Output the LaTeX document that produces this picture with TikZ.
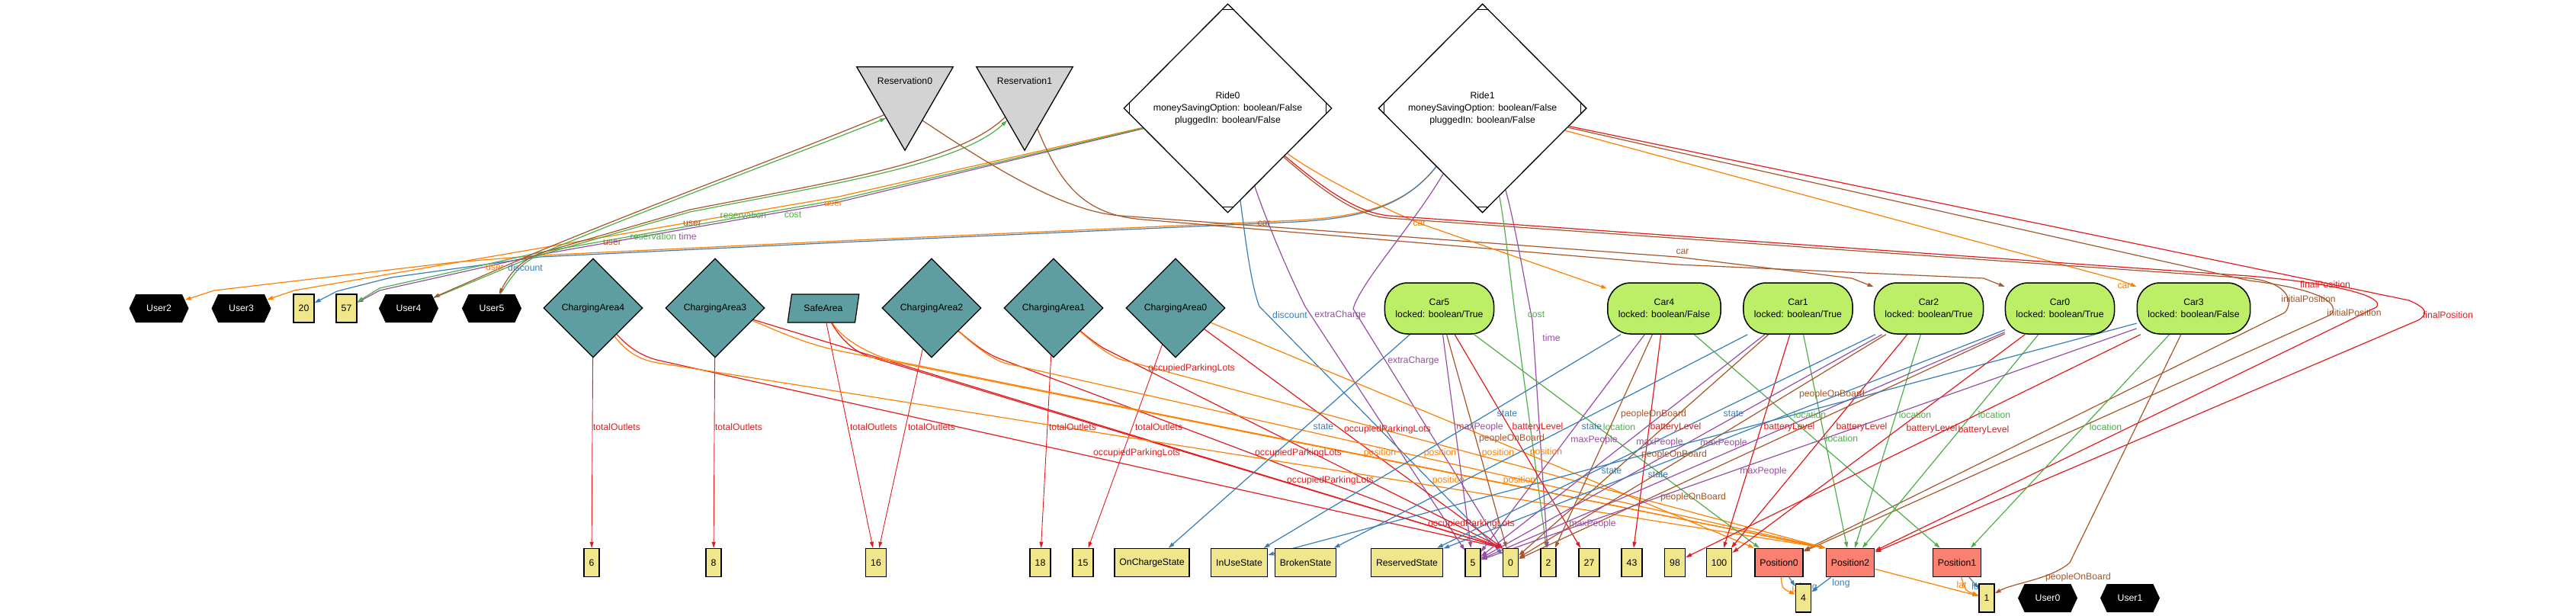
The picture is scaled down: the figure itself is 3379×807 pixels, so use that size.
\documentclass[tikz,border=0pt]{standalone}
\usepackage{fontspec}
\setmainfont{Liberation Sans}
\usetikzlibrary{shapes.geometric,shapes.symbols,arrows.meta}
\definecolor{cred}{HTML}{E41A1C}
\definecolor{cblue}{HTML}{377EB8}
\definecolor{cgreen}{HTML}{4DAF4A}
\definecolor{cpurple}{HTML}{984EA3}
\definecolor{corange}{HTML}{FF7F00}
\definecolor{cbrown}{HTML}{A65628}
\definecolor{valfill}{HTML}{F0E68C}
\definecolor{cafill}{HTML}{5F9EA0}
\definecolor{carfill}{HTML}{BCEE68}
\definecolor{posfill}{HTML}{FA8072}
\definecolor{resfill}{HTML}{D3D3D3}
\pgfdeclarelayer{bg}
\pgfdeclarelayer{edges}
\pgfdeclarelayer{shapes}
\pgfsetlayers{bg,edges,shapes,main}
\newcommand\labfont{\fontsize{12.25pt}{16pt}\selectfont}
\begin{document}
\begin{tikzpicture}[x=1pt,y=-1pt,font=\labfont,
  valbox/.style={draw, line width=1.5pt, fill=valfill, minimum height=37pt, inner xsep=6.5pt, inner ysep=0pt},
  posbox/.style={valbox, fill=posfill},
  userhex/.style={signal, signal to=east and west, signal pointer angle=130, fill=black, text=white, minimum width=78pt, minimum height=37pt, inner sep=0pt},
  cadia/.style={diamond, draw, line width=1.2pt, fill=cafill, minimum width=130pt, minimum height=130pt, inner sep=0pt},
  safebox/.style={trapezium, trapezium stretches=true, trapezium left angle=70, trapezium right angle=110, draw, line width=1.2pt, fill=cafill, minimum width=94pt, minimum height=37pt, inner sep=0pt},
  ridedia/.style={diamond, draw, line width=1.3pt, fill=white, minimum width=273pt, minimum height=274pt, inner sep=0pt, align=center},
  carnode/.style={draw, line width=1.5pt, fill=carfill, rounded corners=30pt, minimum height=67pt, inner xsep=14pt, align=center},
  resnode/.style={minimum width=126pt, minimum height=109pt, inner sep=0pt, text depth=72pt},
  ed/.style={line width=1.2pt, -{Triangle[length=8pt,width=5pt]}},
  edt/.style={line width=0.9pt, -{Triangle[length=8pt,width=5pt]}},
  lab/.style={inner sep=0pt},
]
\begin{pgfonlayer}{bg}\fill[white] (0,0) rectangle (3379,807);\end{pgfonlayer}
\useasboundingbox (0,0) rectangle (3379,807);

% ---------- top row
\node[resnode] (res0) at (1187,142.5) {Reservation0};
\node[resnode] (res1) at (1344,142.5) {Reservation1};
\node[ridedia] (ride0) at (1610.5,142) {Ride0\\moneySavingOption: boolean/False\\pluggedIn: boolean/False};
\node[ridedia] (ride1) at (1944.6,142) {Ride1\\moneySavingOption: boolean/False\\pluggedIn: boolean/False};

% ---------- middle row
\node[userhex] (user2) at (208.5,404.5) {User2};
\node[userhex] (user3) at (316.5,404.5) {User3};
\node[valbox] (v20) at (398.5,404.5) {20};
\node[valbox] (v57) at (454.5,404.5) {57};
\node[userhex] (user4) at (536,404.5) {User4};
\node[userhex] (user5) at (645,404.5) {User5};
\node[cadia] (ca4) at (778,404) {ChargingArea4};
\node[cadia] (ca3) at (938,404) {ChargingArea3};
\node[safebox] (safe) at (1080,404.5) {SafeArea};
\node[cadia] (ca2) at (1222,404) {ChargingArea2};
\node[cadia] (ca1) at (1382,404) {ChargingArea1};
\node[cadia] (ca0) at (1542,404) {ChargingArea0};
\node[carnode] (car5) at (1888,404.5) {Car5\\locked: boolean/True};
\node[carnode] (car4) at (2183,404.5) {Car4\\locked: boolean/False};
\node[carnode] (car1) at (2358.5,404.5) {Car1\\locked: boolean/True};
\node[carnode] (car2) at (2530,404.5) {Car2\\locked: boolean/True};
\node[carnode] (car0) at (2702,404.5) {Car0\\locked: boolean/True};
\node[carnode] (car3) at (2877.5,404.5) {Car3\\locked: boolean/False};

% ---------- bottom row
\node[valbox] (v6) at (776,738) {6};
\node[valbox] (v8) at (936,738) {8};
\node[valbox] (v16) at (1149,738) {16};
\node[valbox] (v18) at (1364.5,738) {18};
\node[valbox] (v15) at (1420.5,738) {15};
\node[valbox] (onc) at (1511,738) {OnChargeState};
\node[valbox] (inuse) at (1625.5,738) {InUseState};
\node[valbox] (broken) at (1712.5,738) {BrokenState};
\node[valbox] (reserved) at (1845.5,738) {ReservedState};
\node[valbox] (v5) at (1932,738) {5};
\node[valbox] (v0) at (1981.5,738) {0};
\node[valbox] (v2) at (2031,738) {2};
\node[valbox] (v27) at (2084.5,738) {27};
\node[valbox] (v43) at (2140.5,738) {43};
\node[valbox] (v98) at (2197,738) {98};
\node[valbox] (v100) at (2255,738) {100};
\node[posbox] (pos0) at (2333.5,738) {Position0};
\node[posbox] (pos2) at (2427,738) {Position2};
\node[posbox] (pos1) at (2567,738) {Position1};
\node[valbox] (v4) at (2365.5,784.5) {4};
\node[valbox] (v1) at (2606,784.5) {1};
\node[userhex] (user0) at (2686,784.5) {User0};
\node[userhex] (user1) at (2794,784.5) {User1};

% ---------- shape details
\begin{pgfonlayer}{shapes}
\filldraw[fill=resfill, line width=1.3pt] (res0.north west) -- (res0.north east) -- (res0.south) -- cycle;
\filldraw[fill=resfill, line width=1.3pt] (res1.north west) -- (res1.north east) -- (res1.south) -- cycle;
\end{pgfonlayer}
\foreach \r in {ride0,ride1} {
  \draw[line width=1.3pt] ([xshift=-8pt,yshift=-8pt]\r.north) -- ([xshift=8pt,yshift=-8pt]\r.north);
  \draw[line width=1.3pt] ([xshift=-8pt,yshift=8pt]\r.south) -- ([xshift=8pt,yshift=8pt]\r.south);
  \draw[line width=1.3pt] ([xshift=8pt,yshift=8pt]\r.west) -- ([xshift=8pt,yshift=-8pt]\r.west);
  \draw[line width=1.3pt] ([xshift=-8pt,yshift=8pt]\r.east) -- ([xshift=-8pt,yshift=-8pt]\r.east);
}

\coordinate (r0L) at (1162,155);
\coordinate (r0Lb) at (1159,151);
\coordinate (r1L) at (1321,158);
\coordinate (r1Lb) at (1318,154);
\coordinate (r0R) at (1210,158);
\coordinate (r1R) at (1360,167);

\begin{pgfonlayer}{edges}
% Ride -> users / values on the left
\draw[ed,corange] (ride1) .. controls (1845,268) and (1790,284) .. (1700,289) -- (1100,316) -- (708,335) -- (596,344) -- (281,381) -- (user2);
\draw[ed,cblue] (ride1) .. controls (1843,270) and (1788,286) .. (1700,291) -- (1100,318) -- (708,337) -- (513,364) -- (442,382) -- (v20);
\draw[ed,corange] (ride0) -- (1100,258) -- (386,381) -- (user3);
\draw[ed,cpurple] (ride0) -- (1100,265) -- (708,334) -- (498,381) -- (v57);
\draw[ed,cgreen] (ride0) -- (1100,262) -- (708,331) -- (498,378) -- (v57);
% users <-> reservations
\draw[ed,cgreen] (user4) -- (708,333) .. controls (880,262) and (1050,200) .. (r0L);
\draw[ed,cbrown] (r0Lb) .. controls (1048,197) and (878,259) .. (706,330) -- (user4);
\draw[ed,cgreen] (user5) .. controls (675,355) and (690,340) .. (710,334) -- (905,278) .. controls (1100,240) and (1260,215) .. (r1L);
\draw[ed,cbrown] (r1Lb) .. controls (1258,212) and (1100,237) .. (905,275) -- (712,331) .. controls (690,338) and (672,352) .. (user5);
% reservations -> cars
\draw[ed,cbrown] (r0R) .. controls (1310,225) and (1400,278) .. (1470,283) -- (2200,337) -- (2429,365) -- (car2);
\draw[ed,cbrown] (r1R) .. controls (1390,240) and (1420,282) .. (1500,288) -- (2200,347) -- (2602,365) -- (car0);
% rides -> cars
\draw[ed,corange] (ride0) .. controls (1720,225) and (1790,262) .. (1862,293) -- (car4);
\draw[ed,corange] (ride1) -- (2779,367) -- (car3);
% rides -> positions
\draw[ed,cbrown] (ride0) .. controls (1740,255) and (1780,282) .. (1820,286) -- (2950,365) .. controls (3000,370) and (3010,395) .. (2997,410) -- (pos0);
\draw[ed,cred] (ride0) .. controls (1742,252) and (1782,279) .. (1822,283) -- (2950,362) .. controls (3070,372) and (3130,390) .. (3117,403) -- (pos2);
\draw[ed,cbrown] (ride1) -- (2950,368) .. controls (3050,380) and (3070,400) .. (3057,413) -- (pos0);
\draw[ed,cred] (ride1) -- (3160,394) .. controls (3185,405) and (3185,412) .. (3172,420) -- (pos2);
% rides -> values below
\draw[ed,cblue] (ride0) .. controls (1632,300) and (1640,372) .. (1652,402) -- (v0);
\draw[ed,cpurple] (ride0) .. controls (1665,300) and (1692,362) .. (1712,402) -- (v5);
\draw[ed,cpurple] (ride1) .. controls (1850,300) and (1785,370) .. (1775,405) -- (v0);
\draw[ed,cgreen] (ride1) .. controls (1975,300) and (1985,400) .. (1990,430) -- (v2);
\draw[ed,cpurple] (ride1) .. controls (1987,292) and (2002,382) .. (2010,420) -- (v2);
% totalOutlets
\draw[edt,cred] (ca4) -- (v6);
\draw[edt,cred] (ca3) -- (v8);
\draw[edt,cred] (safe) -- (v16);
\draw[edt,cred] (ca2) -- (v16);
\draw[edt,cred] (ca1) -- (v18);
\draw[edt,cred] (ca0) -- (v15);
% occupiedParkingLots
\draw[ed,cred] (ca4) .. controls (830,462) and (850,470) .. (870,474) -- (v0.north west);
\draw[ed,cred] (ca3) -- (v0.north west);
\draw[ed,cred] (safe) .. controls (1100,440) and (1115,458) .. (1138,467) -- (v0.north west);
\draw[ed,cred] (ca2) .. controls (1270,445) and (1290,462) .. (1310,470) -- (v0.north west);
\draw[ed,cred] (ca1) .. controls (1430,445) and (1440,452) .. (1448,457) -- (v0.north west);
\draw[ed,cred] (ca0) -- (v0.north west);
% position
\draw[ed,corange] (ca4) .. controls (825,466) and (845,473) .. (863,476) -- (pos2.north west);
\draw[ed,corange] (ca3) .. controls (1000,425) and (1050,450) .. (1100,460) -- (pos2.north west);
\draw[ed,corange] (safe) .. controls (1105,445) and (1140,465) .. (1172,473) -- (pos2.north west);
\draw[ed,corange] (ca2) .. controls (1275,450) and (1300,472) .. (1321,477) -- (pos2.north west);
\draw[ed,corange] (ca1) .. controls (1440,455) and (1460,470) .. (1476,473) -- (pos2.north west);
\draw[ed,corange] (ca0) -- (pos0.north west);
% cars
\draw[ed,cblue] (car5) -- (onc);
\draw[ed,cpurple] (car5) -- (v5);
\draw[ed,cbrown] (car5) -- (v0);
\draw[ed,cred] (car5) -- (v27);
\draw[ed,cgreen] (car5) -- (pos0);
\draw[ed,cblue] (car4) -- (inuse);
\draw[ed,cpurple] (car4) -- (v5);
\draw[ed,cbrown] (car4) -- (v2);
\draw[ed,cred] (car4) -- (v43);
\draw[ed,cgreen] (car4) -- (pos1);
\draw[ed,cblue] (car1) -- (broken);
\draw[ed,cpurple] (car1) -- (v5);
\draw[ed,cbrown] (car1) -- (v0);
\draw[ed,cred] (car1) -- (v100);
\draw[ed,cgreen] (car1) -- (pos2);
\draw[ed,cblue] (car2) -- (reserved);
\draw[ed,cpurple] (car2) -- (v5);
\draw[ed,cbrown] (car2) -- (v0);
\draw[ed,cred] (car2) -- (v100);
\draw[ed,cgreen] (car2) -- (pos2);
\draw[ed,cblue] (car0) -- (reserved);
\draw[ed,cpurple] (car0) -- (v5);
\draw[ed,cbrown] (car0) -- (v0);
\draw[ed,cred] (car0) -- (v100);
\draw[ed,cgreen] (car0) -- (pos2);
\draw[ed,cblue] (car3) -- (inuse);
\draw[ed,cpurple] (car3) -- (v5);
\draw[ed,cbrown] (car3) -- (2715,738) .. controls (2690,760) and (2640,765) .. (v1);
\draw[ed,cred] (car3) -- (v98);
\draw[ed,cgreen] (car3) -- (pos1);
% positions
\draw[ed,corange] (pos0) .. controls (2338,772) .. (v4);
\draw[ed,cblue] (pos0) -- (v4);
\draw[ed,cblue] (pos2) -- (v4);
\draw[ed,corange] (pos2) -- (v1);
\draw[ed,corange] (pos1) .. controls (2578,775) .. (v1);
\draw[ed,cblue] (pos1) -- (v1);

% ---------- labels
\node[lab,text=corange] (la1) at (649,351) {user};
\node[lab,text=cblue] (la2) at (689,351) {discount};
\node[lab,text=cbrown] (la3) at (803,318) {user};
\node[lab,text=cgreen] (la4) at (857,310) {reservation};
\node[lab,text=cpurple] (la5) at (902,310) {time};
\node[lab,text=cbrown] (la6) at (908,293) {user};
\node[lab,text=cgreen] (la7) at (975,282) {reservation};
\node[lab,text=cgreen] (la8) at (1040,282) {cost};
\node[lab,text=corange] (la9) at (1093,267) {user};
\node[lab,text=cbrown] (lb1) at (1658,293) {car};
\node[lab,text=corange] (lb2) at (1862,293) {car};
\node[lab,text=cbrown] (lb3) at (2207,330) {car};
\node[lab,text=corange] (lb4) at (2786,375) {car};
\node[lab,text=cbrown] (lb5) at (3028,392) {initialPosition};
\node[lab,text=cred] (lb6) at (3050,373) {finalPosition};
\node[lab,text=cbrown] (lb7) at (3088,410) {initialPosition};
\node[lab,text=cred] (lb8) at (3211,413) {finalPosition};
\node[lab,text=cblue] (lc1) at (1692,413) {discount};
\node[lab,text=cpurple] (lc2) at (1758,413) {extraCharge};
\node[lab,text=cpurple] (lc3) at (1854,473) {extraCharge};
\node[lab,text=cgreen] (lc4) at (2015,413) {cost};
\node[lab,text=cpurple] (lc5) at (2035,443) {time};
% totalOutlets
\node[lab,text=cred] (ld1) at (809,560) {totalOutlets};
\node[lab,text=cred] (ld2) at (969,560) {totalOutlets};
\node[lab,text=cred] (ld3) at (1146,560) {totalOutlets};
\node[lab,text=cred] (ld4) at (1222,560) {totalOutlets};
\node[lab,text=cred] (ld5) at (1407,560) {totalOutlets};
\node[lab,text=cred] (ld6) at (1520,560) {totalOutlets};
% occupiedParkingLots
\node[lab,text=cred] (le1) at (1563,483) {occupiedParkingLots};
\node[lab,text=cred] (le2) at (1491,594) {occupiedParkingLots};
\node[lab,text=cred] (le3) at (1703,594) {occupiedParkingLots};
\node[lab,text=cred] (le4) at (1820,563) {occupiedParkingLots};
\node[lab,text=cred] (le5) at (1745,630) {occupiedParkingLots};
\node[lab,text=cred] (le6) at (1930,687) {occupiedParkingLots};
% position
\node[lab,text=corange] (lf1) at (1810,594) {position};
\node[lab,text=corange] (lf2) at (1889,594) {position};
\node[lab,text=corange] (lf3) at (1965,594) {position};
\node[lab,text=corange] (lf4) at (2028,593) {position};
\node[lab,text=corange] (lf5) at (1900,630) {position};
\node[lab,text=corange] (lf6) at (1993,630) {position};
% state
\node[lab,text=cblue] (lg1) at (1736,560) {state};
\node[lab,text=cblue] (lg2) at (1977,543) {state};
\node[lab,text=cblue] (lg3) at (2088,560) {state};
\node[lab,text=cblue] (lg4) at (2114,618) {state};
\node[lab,text=cblue] (lg5) at (2175,623) {state};
\node[lab,text=cblue] (lg6) at (2274,543) {state};
% maxPeople
\node[lab,text=cpurple] (lh1) at (1941,560) {maxPeople};
\node[lab,text=cpurple] (lh2) at (2091,577) {maxPeople};
\node[lab,text=cpurple] (lh3) at (2177,580) {maxPeople};
\node[lab,text=cpurple] (lh4) at (2261,581) {maxPeople};
\node[lab,text=cpurple] (lh5) at (2313,618) {maxPeople};
\node[lab,text=cpurple] (lh6) at (2089,687) {maxPeople};
% batteryLevel
\node[lab,text=cred] (li1) at (2017,560) {batteryLevel};
\node[lab,text=cred] (li2) at (2198,560) {batteryLevel};
\node[lab,text=cred] (li3) at (2347,560) {batteryLevel};
\node[lab,text=cred] (li4) at (2442,560) {batteryLevel};
\node[lab,text=cred] (li5) at (2534,562) {batteryLevel};
\node[lab,text=cred] (li6) at (2602,564) {batteryLevel};
% peopleOnBoard
\node[lab,text=cbrown] (lj1) at (1983,575) {peopleOnBoard};
\node[lab,text=cbrown] (lj2) at (2169,543) {peopleOnBoard};
\node[lab,text=cbrown] (lj3) at (2196,596) {peopleOnBoard};
\node[lab,text=cbrown] (lj4) at (2221,652) {peopleOnBoard};
\node[lab,text=cbrown] (lj5) at (2403,517) {peopleOnBoard};
\node[lab,text=cbrown] (lj6) at (2726,757) {peopleOnBoard};
% location
\node[lab,text=cgreen] (lk1) at (2124,560) {location};
\node[lab,text=cgreen] (lk2) at (2374,544) {location};
\node[lab,text=cgreen] (lk3) at (2416,575) {location};
\node[lab,text=cgreen] (lk4) at (2512,544) {location};
\node[lab,text=cgreen] (lk5) at (2616,544) {location};
\node[lab,text=cgreen] (lk6) at (2762,560) {location};
% lat / long
\node[lab,text=corange] (lm1) at (2357,773) {lat};
\node[lab,text=cblue] (lm2) at (2372,770) {long};
\node[lab,text=cblue] (lm3) at (2415,765) {long};
\node[lab,text=corange] (lm4) at (2573,767) {lat};
\node[lab,text=cblue] (lm5) at (2598,770) {long};
\end{pgfonlayer}
\end{tikzpicture}
\end{document}
